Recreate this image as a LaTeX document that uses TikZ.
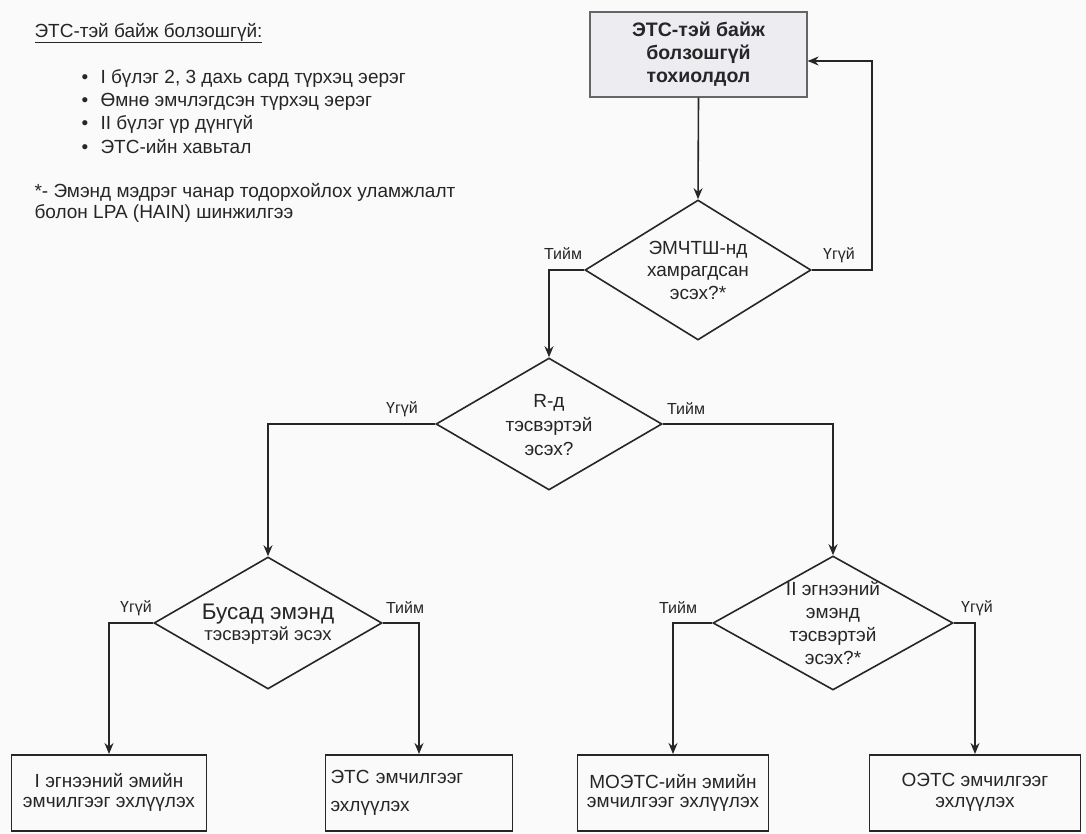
\documentclass[tikz,border=0pt]{standalone}
\usepackage{fontspec}
\setmainfont{Liberation Sans}
\usetikzlibrary{shapes.geometric,arrows.meta}
\definecolor{ink}{HTML}{262626}
\definecolor{boxfill}{HTML}{ECECF1}
\definecolor{paper}{HTML}{FAFAFA}
\begin{document}
\begin{tikzpicture}[x=1pt,y=-1pt,
  every node/.style={text=ink},
  line/.style={draw=ink,line width=1.6pt},
  arr/.style={line,-{Stealth[length=11pt,width=9pt]}},
  choice/.style={diamond,draw=ink,line width=1.6pt,inner sep=0pt,
    minimum width=#1,minimum height=134pt},
  endbox/.style={draw=ink,line width=1.6pt,minimum height=76pt,anchor=north,
    inner sep=4pt},
  txt/.style={font=\fontsize{19}{21}\selectfont,align=center},
  lbl/.style={font=\fontsize{16}{18}\selectfont}
]
\useasboundingbox[fill=paper] (0,0) rectangle (1086,834);

% notes in the upper left corner
\node[anchor=west,font=\fontsize{19}{22}\selectfont] (head) at (31,33)
  {\underline{ЭТС-тэй байж болзошгүй:}};
\node[anchor=north west,align=left,font=\fontsize{19}{23.2}\selectfont] (list) at (78,66)
  {\makebox[19pt][l]{•}I бүлэг 2, 3 дахь сард түрхэц эерэг\\
   \makebox[19pt][l]{•}Өмнө эмчлэгдсэн түрхэц эерэг\\
   \makebox[19pt][l]{•}II бүлэг үр дүнгүй\\
   \makebox[19pt][l]{•}ЭТС-ийн хавьтал};
\node[anchor=north west,align=left,font=\fontsize{19}{21}\selectfont] (note) at (31,180)
  {*- Эмэнд мэдрэг чанар тодорхойлох уламжлалт\\
   болон LPA (HAIN) шинжилгээ};

% start box
\node[draw=gray!70!ink,line width=1.2pt,fill=boxfill,minimum width=217pt,
  minimum height=85pt,align=center,font=\bfseries\fontsize{19.5}{23}\selectfont]
  (start) at (698.5,54.5) {ЭТС-тэй байж\\болзошгүй\\тохиолдол};

% decisions
\node[choice=226pt,minimum height=140pt,label={[txt,font=\fontsize{19}{22.5}\selectfont]center:ЭМЧТШ-нд\\хамрагдсан\\эсэх?*}]
  (d1) at (698,270) {};
\node[choice=226pt,minimum height=132pt,label={[txt,yshift=-1pt,font=\fontsize{19}{24}\selectfont]center:R-д\\тэсвэртэй\\эсэх?}]
  (d2) at (549,424) {};
\node[choice=228pt,minimum height=132pt,label={[txt,yshift=-1pt]center:{\fontsize{22.5}{26}\selectfont Бусад эмэнд}\\{\fontsize{18.5}{26}\selectfont тэсвэртэй эсэх}}]
  (d3) at (268,623) {};
\node[choice=240pt,minimum height=134pt,label={[txt,font=\fontsize{19}{23}\selectfont]center:II эгнээний\\эмэнд\\тэсвэртэй\\эсэх?*}]
  (d4) at (833,623) {};

% treatments
\node[endbox,minimum width=195pt,txt,font=\fontsize{19}{20}\selectfont] (b1) at (109,754)
  {I эгнээний эмийн\\эмчилгээг эхлүүлэх};
\node[endbox,minimum width=187pt,txt,align=left,text width=177pt,font=\fontsize{19}{28}\selectfont] (b2) at (419,754)
  {ЭТС эмчилгээг\\эхлүүлэх};
\node[endbox,minimum width=191pt,txt,font=\fontsize{19}{19}\selectfont] (b3) at (673,754)
  {МОЭТС-ийн эмийн\\эмчилгээг эхлүүлэх};
\node[endbox,minimum width=211pt,txt,font=\fontsize{19}{21}\selectfont] (b4) at (975,754)
  {ОЭТС эмчилгээг\\эхлүүлэх};

% connectors
\draw[arr] (start.south) -- (d1.north);
\coordinate (fb) at (872,61);
\draw[arr] (d1.east) -| (fb) -- (start.east |- fb);
\draw[arr] (d1.west) -| (d2.north);
\draw[arr] (d2.west) -| (d3.north);
\draw[arr] (d2.east) -| (d4.north);
\draw[arr] (d3.west) -| (b1.north);
\draw[arr] (d3.east) -| (b2.north);
\draw[arr] (d4.west) -| (b3.north);
\draw[arr] (d4.east) -| (b4.north);

% branch labels
\node[lbl] (y1) at (563,254) {Тийм};
\node[lbl] (n1) at (839,255) {Үгүй};
\node[lbl] (n2) at (402,409) {Үгүй};
\node[lbl] (y2) at (686,409) {Тийм};
\node[lbl] (n3) at (136,608) {Үгүй};
\node[lbl] (y3) at (405,608) {Тийм};
\node[lbl] (y4) at (678,608) {Тийм};
\node[lbl] (n4) at (977,608) {Үгүй};
\end{tikzpicture}
\end{document}
